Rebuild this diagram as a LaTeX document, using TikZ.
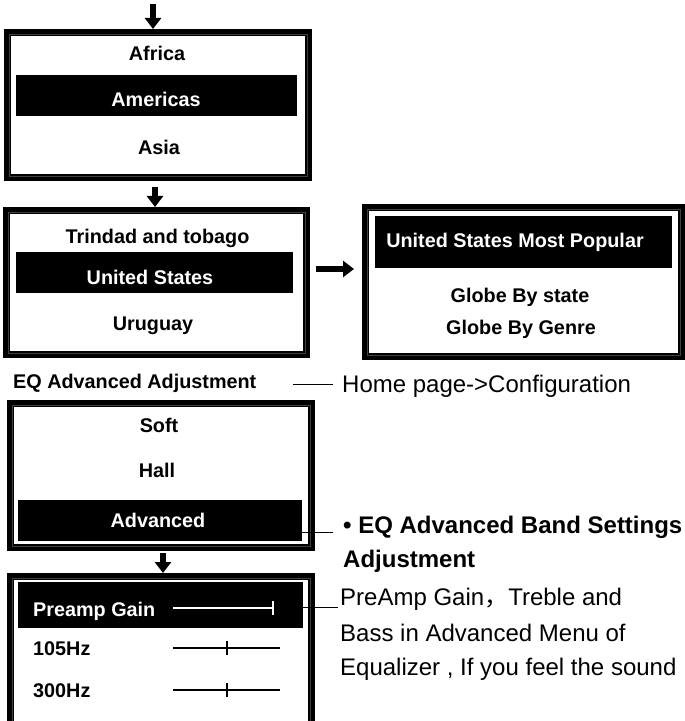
\documentclass[tikz,border=0pt]{standalone}
\usepackage{fontspec}
\setmainfont{Liberation Sans}
\newfontfamily\cjk{Noto Sans CJK SC}
\usetikzlibrary{arrows.meta}
\begin{document}
\begin{tikzpicture}[x=1bp,y=-1bp,
  frame/.style={draw=black,line width=7bp,inner sep=0pt,outer sep=3.5bp,fill=white},
  hl/.style={fill=black,inner sep=0pt,outer sep=0pt},
  btxt/.style={font=\fontsize{19.8bp}{22bp}\selectfont\bfseries,inner sep=0pt,anchor=base},
  wtxt/.style={btxt,text=white},
  rtxt/.style={font=\fontsize{24bp}{28bp}\selectfont,inner sep=0pt,anchor=base west},
  rbtxt/.style={rtxt,font=\fontsize{24bp}{28bp}\selectfont\bfseries},
  flowarrow/.style={line width=5.5bp,-{Triangle[width=16bp,length=11bp]}},
  conn/.style={line width=1bp},
  innerline/.style={draw=black!75,line width=0.8bp}
]
\path[use as bounding box] (0,0) rectangle (685,721);
\begin{scope}
\clip (0,0) rectangle (685,721);
% ---------- Box 1
\node[frame,minimum width=301bp,minimum height=145bp] (b1) at (158,105) {};
\draw[innerline] ([shift={(5bp,-5bp)}]b1.north west) rectangle ([shift={(-5bp,5bp)}]b1.south east);
\node[hl,minimum width=281bp,minimum height=41bp] (h1) at (156.5,95.5) {};
\node[btxt] (t1a) at (157,61) {Africa};
\node[wtxt] (t1b) at (156,107) {Americas};
\node[btxt] (t1c) at (159,154) {Asia};
% ---------- Box 2
\node[frame,minimum width=300bp,minimum height=144bp] (b2) at (156.5,282.5) {};
\draw[innerline] ([shift={(5bp,-5bp)}]b2.north west) rectangle ([shift={(-5bp,5bp)}]b2.south east);
\node[hl,minimum width=277bp,minimum height=41bp] (h2) at (154.5,272.5) {};
\node[btxt] (t2a) at (157.5,243) {Trindad and tobago};
\node[wtxt] (t2b) at (150,284) {United States};
\node[btxt] (t2c) at (153,330) {Uruguay};
% ---------- Box 3
\node[frame,minimum width=316bp,minimum height=149bp] (b3) at (523.5,282) {};
\draw[innerline] ([shift={(5bp,-5bp)}]b3.north west) rectangle ([shift={(-5bp,5bp)}]b3.south east);
\node[hl,minimum width=297bp,minimum height=52bp] (h3) at (523.5,242) {};
\node[wtxt] (t3a) at (515,247) {United States Most Popular};
\node[btxt] (t3b) at (520,302) {Globe By state};
\node[btxt] (t3c) at (521,334) {Globe By Genre};
% ---------- EQ heading
\node[btxt,anchor=base west] (eqh) at (13,388) {EQ Advanced Adjustment};
% ---------- Box 4
\node[frame,minimum width=301bp,minimum height=144bp] (b4) at (161,475.5) {};
\draw[innerline] ([shift={(5bp,-5bp)}]b4.north west) rectangle ([shift={(-5bp,5bp)}]b4.south east);
\node[hl,minimum width=284bp,minimum height=41bp] (h4) at (160,520.5) {};
\node[btxt] (t4a) at (159,432) {Soft};
\node[btxt] (t4b) at (157,477) {Hall};
\node[wtxt] (t4c) at (158,527) {Advanced};
% ---------- Box 5
\node[frame,minimum width=301bp,minimum height=160bp] (b5) at (161,656.5) {};
\draw[innerline] ([shift={(5bp,-5bp)}]b5.north west) rectangle ([shift={(-5bp,5bp)}]b5.south east);
\node[hl,minimum width=285bp,minimum height=46bp] (h5) at (160.5,605) {};
\node[wtxt,anchor=base west] (t5a) at (33,616) {Preamp Gain};
\node[btxt,anchor=base west] (t5b) at (33,655) {105Hz};
\node[btxt,anchor=base west] (t5c) at (33,697) {300Hz};
% sliders
\coordinate (s1a) at (173,608); \coordinate (s1b) at (273,608);
\draw[white,line width=2.4bp] (s1a) -- (s1b);
\draw[white,line width=2.6bp] ([yshift=-7bp]s1b) -- ([yshift=7bp]s1b);
\coordinate (s2a) at (173,648); \coordinate (s2b) at (280,648); \coordinate (s2t) at (227,648);
\draw[black,line width=2.4bp] (s2a) -- (s2b);
\draw[black,line width=2.6bp] ([yshift=-7bp]s2t) -- ([yshift=7bp]s2t);
\coordinate (s3a) at (173,690); \coordinate (s3b) at (280,690); \coordinate (s3t) at (227,690);
\draw[black,line width=2.4bp] (s3a) -- (s3b);
\draw[black,line width=2.6bp] ([yshift=-7bp]s3t) -- ([yshift=7bp]s3t);
\end{scope}
% ---------- flow arrows
\coordinate (a0) at (153,4);
\draw[flowarrow] (a0) -- (a0 |- b1.north);
\coordinate (a1) at (155,0);
\draw[flowarrow,shorten <=6bp] (a1 |- b1.south) -- (a1 |- b2.north);
\coordinate (a2) at (0,269);
\draw[flowarrow,shorten <=6bp,shorten >=8bp] (b2.east |- a2) -- (b3.west |- a2);
\coordinate (a3) at (163,0);
\draw[flowarrow,shorten <=2bp] (a3 |- b4.south) -- (a3 |- b5.north);
% ---------- right texts
\node[rtxt] (home) at (342,392.6) {Home page->Configuration};
\node[rbtxt] (band1) at (343,533.6) {• EQ Advanced Band Settings};
\node[rbtxt] (band2) at (343,567.6) {Adjustment};
\node[rtxt] (p1) at (340,605.6) {PreAmp Gain{\cjk ，}Treble and};
\node[rtxt] (p2) at (340,641.6) {Bass in Advanced Menu of};
\node[rtxt] (p3) at (340,675.6) {Equalizer , If you feel the sound};
% ---------- connectors
\coordinate (l1a) at (293,384); \coordinate (l1b) at (333,384);
\draw[conn] (l1a) -- (l1b);
\coordinate (l2) at (333,532);
\draw[conn] (h4.east |- l2) -- (l2);
\coordinate (l3) at (338,607);
\draw[conn] (h5.east |- l3) -- (l3);
\end{tikzpicture}
\end{document}
